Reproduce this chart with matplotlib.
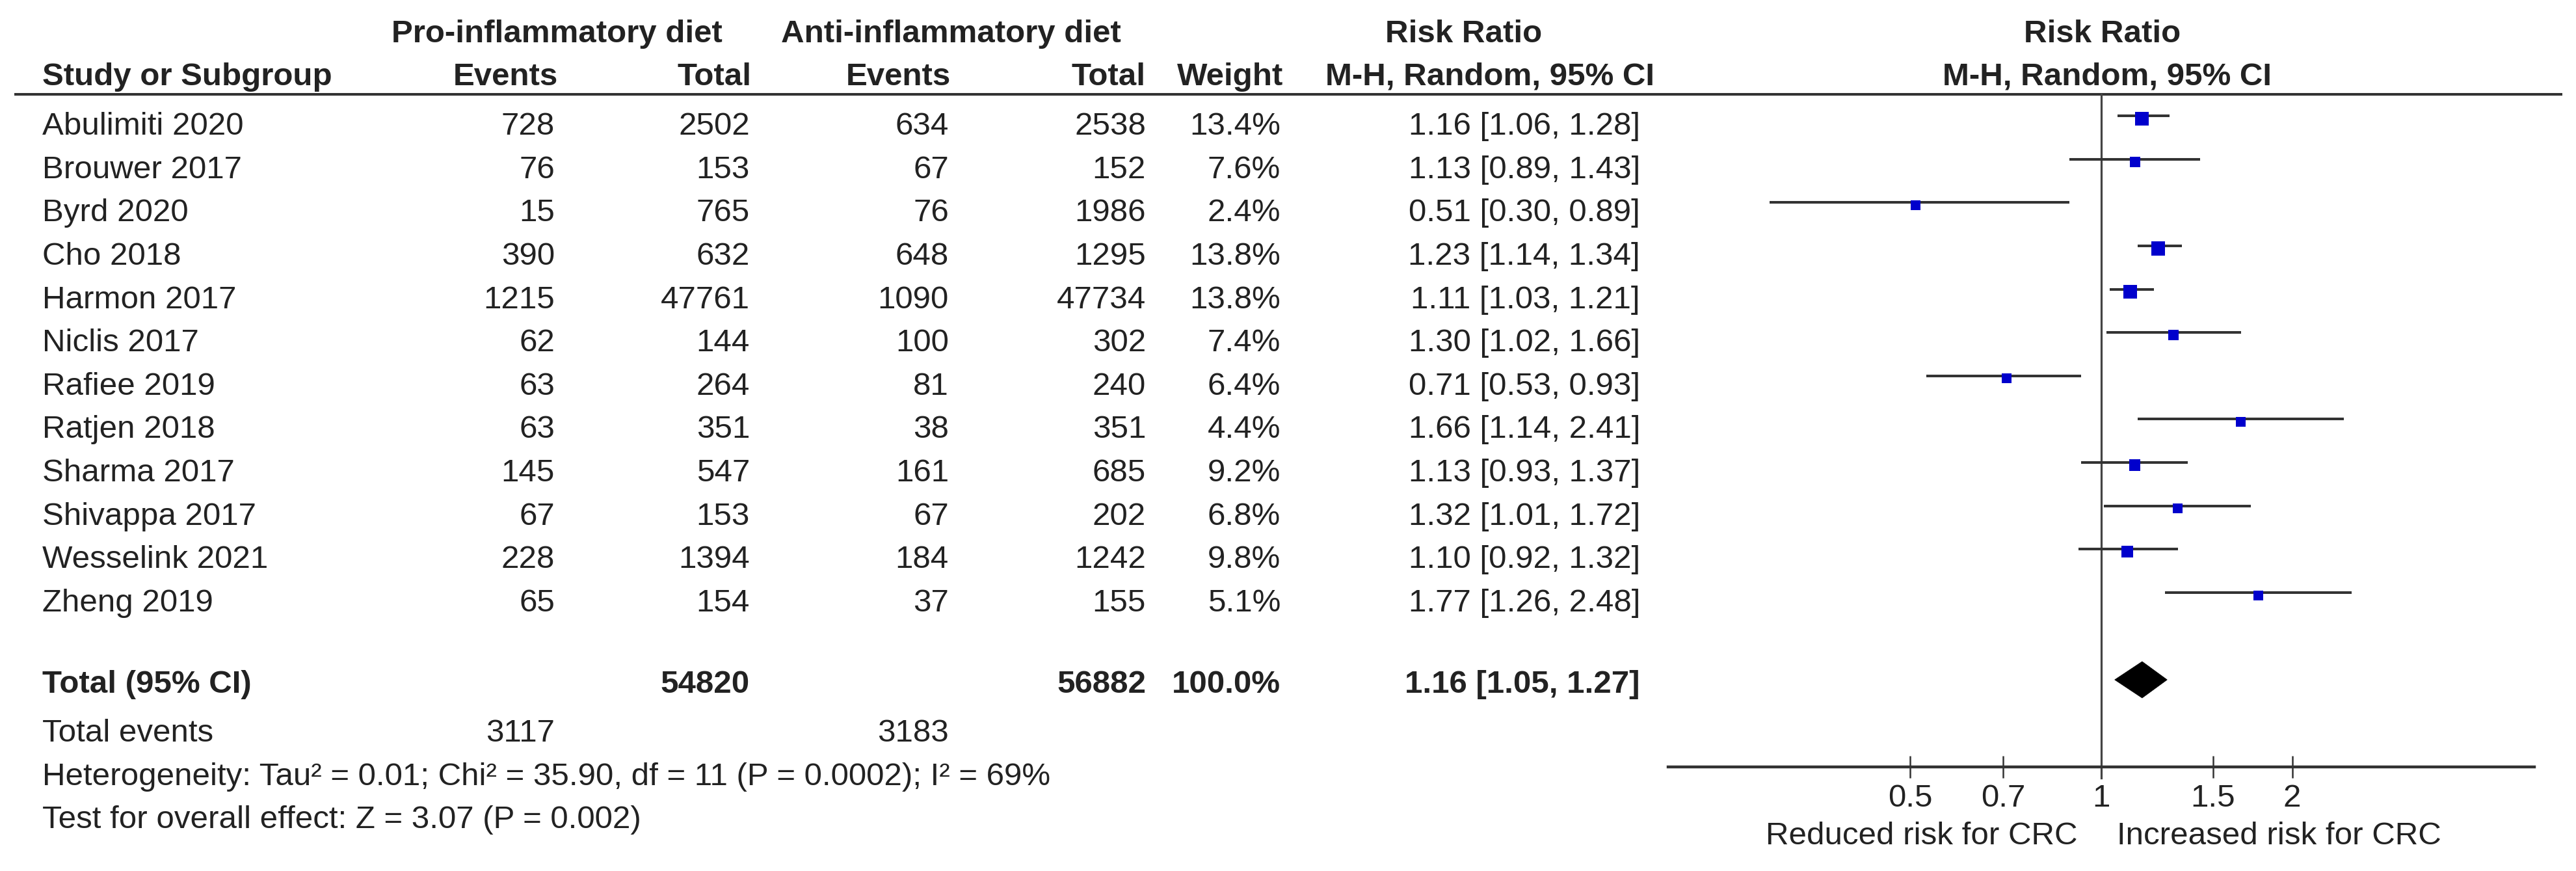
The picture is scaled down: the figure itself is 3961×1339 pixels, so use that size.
import matplotlib
matplotlib.use('Agg')
import matplotlib.pyplot as plt
from matplotlib.patches import Polygon

plt.rcParams['font.family'] = ['Liberation Sans', 'DejaVu Sans']

# Study data
studies = ['Abulimiti 2020', 'Brouwer 2017', 'Byrd 2020', 'Cho 2018', 'Harmon 2017',
           'Niclis 2017', 'Rafiee 2019', 'Ratjen 2018', 'Sharma 2017', 'Shivappa 2017',
           'Wesselink 2021', 'Zheng 2019']
events_pro = [728, 76, 15, 390, 1215, 62, 63, 63, 145, 67, 228, 65]
total_pro = [2502, 153, 765, 632, 47761, 144, 264, 351, 547, 153, 1394, 154]
events_anti = [634, 67, 76, 648, 1090, 100, 81, 38, 161, 67, 184, 37]
total_anti = [2538, 152, 1986, 1295, 47734, 302, 240, 351, 685, 202, 1242, 155]
weight = [13.4, 7.6, 2.4, 13.8, 13.8, 7.4, 6.4, 4.4, 9.2, 6.8, 9.8, 5.1]
rr = [1.16, 1.13, 0.51, 1.23, 1.11, 1.30, 0.71, 1.66, 1.13, 1.32, 1.10, 1.77]
rr_lo = [1.06, 0.89, 0.30, 1.14, 1.03, 1.02, 0.53, 1.14, 0.93, 1.01, 0.92, 1.26]
rr_hi = [1.28, 1.43, 0.89, 1.34, 1.21, 1.66, 0.93, 2.41, 1.37, 1.72, 1.32, 2.48]

# Pooled result
total_n_pro = 54820
total_n_anti = 56882
total_weight = '100.0%'
total_ev_pro = 3117
total_ev_anti = 3183
pooled = (1.16, 1.05, 1.27)
heterogeneity = 'Heterogeneity: Tau² = 0.01; Chi² = 35.90, df = 11 (P = 0.0002); I² = 69%'
overall = 'Test for overall effect: Z = 3.07 (P = 0.002)'

ticks = [0.5, 0.7, 1, 1.5, 2]
tick_labels = ['0.5', '0.7', '1', '1.5', '2']

W, H = 3962, 1339
DPI = 100
FS = 35.5
TXT = '#222222'
LINE = '#333333'
BLUE = '#0000CC'

fig = plt.figure(figsize=(W / DPI, H / DPI), dpi=DPI)

# full-figure axes in pixel coordinates for the table text
tab = fig.add_axes([0, 0, 1, 1])
tab.set_xlim(0, W)
tab.set_ylim(H, 0)
tab.axis('off')


def txt(x, y, s, ha='left', bold=False):
    tab.text(x, y, s, ha=ha, va='baseline', fontsize=FS, color=TXT,
             fontweight='bold' if bold else 'normal')


# headers
txt(602, 65, 'Pro-inflammatory diet', bold=True)
txt(1201, 65, 'Anti-inflammatory diet', bold=True)
txt(2251, 65, 'Risk Ratio', ha='center', bold=True)
txt(3233, 65, 'Risk Ratio', ha='center', bold=True)
txt(65, 131, 'Study or Subgroup', bold=True)
txt(858, 131, 'Events', ha='right', bold=True)
txt(1156, 131, 'Total', ha='right', bold=True)
txt(1462, 131, 'Events', ha='right', bold=True)
txt(1762, 131, 'Total', ha='right', bold=True)
txt(1973, 131, 'Weight', ha='right', bold=True)
txt(2291, 131, 'M-H, Random, 95% CI', ha='center', bold=True)
txt(3240, 131, 'M-H, Random, 95% CI', ha='center', bold=True)
tab.plot([22, 3940], [145, 145], color=LINE, lw=2.9, solid_capstyle='butt')

# rows
y0, dy = 207, 66.64
cols = [853, 1153, 1459, 1762, 1969, 2522]
base = [y0 + dy * i for i in range(len(studies))]
for i, name in enumerate(studies):
    y = base[i]
    txt(65, y, name)
    txt(cols[0], y, str(events_pro[i]), ha='right')
    txt(cols[1], y, str(total_pro[i]), ha='right')
    txt(cols[2], y, str(events_anti[i]), ha='right')
    txt(cols[3], y, str(total_anti[i]), ha='right')
    txt(cols[4], y, f'{weight[i]:.1f}%', ha='right')
    txt(cols[5], y, f'{rr[i]:.2f} [{rr_lo[i]:.2f}, {rr_hi[i]:.2f}]', ha='right')

y_tot = 1065
txt(65, y_tot, 'Total (95% CI)', bold=True)
txt(cols[1], y_tot, str(total_n_pro), ha='right', bold=True)
txt(cols[3], y_tot, str(total_n_anti), ha='right', bold=True)
txt(cols[4], y_tot, total_weight, ha='right', bold=True)
txt(cols[5], y_tot, f'{pooled[0]:.2f} [{pooled[1]:.2f}, {pooled[2]:.2f}]', ha='right', bold=True)
txt(65, y0 + dy * 14, 'Total events')
txt(cols[0], y0 + dy * 14, str(total_ev_pro), ha='right')
txt(cols[2], y0 + dy * 14, str(total_ev_anti), ha='right')
txt(65, y0 + dy * 15, heterogeneity)
txt(65, y0 + dy * 16, overall)

# forest panel
x_left, x_right = 2565, 3897
y_top, y_axis = 145, 1179
ax = fig.add_axes([x_left / W, 1 - y_axis / H, (x_right - x_left) / W, (y_axis - y_top) / H])
ax.set_xscale('log')
ax.set_xlim(1 / 4.815, 4.815)
ax.set_ylim(y_axis, y_top)
ax.patch.set_alpha(0)
for s in ['top', 'left', 'right']:
    ax.spines[s].set_visible(False)
ax.spines['bottom'].set_color(LINE)
ax.spines['bottom'].set_linewidth(3.2)
ax.set_yticks([])
ax.set_xticks(ticks)
ax.set_xticklabels(tick_labels)
ax.xaxis.set_minor_locator(matplotlib.ticker.NullLocator())
ax.tick_params(axis='x', direction='inout', length=25, width=1.8, color=LINE,
               labelsize=FS, labelcolor=TXT, pad=6)

ax.plot([1, 1], [y_top, y_axis + 17], color='#444444', lw=2.3, clip_on=False)

line_y = [b - 29 for b in base]
sq_y = [b - 25 for b in base]
# square side in px: area follows weight, with a floor for small studies
side_px = [max(15.0, 21.0 * (w / 13.4) ** 0.5) for w in weight]
for i in range(len(studies)):
    ax.plot([rr_lo[i], rr_hi[i]], [line_y[i], line_y[i]], color=LINE, lw=2.9,
            solid_capstyle='butt', zorder=2)
ax.scatter(rr, sq_y, marker='s', s=[(p * 72 / DPI) ** 2 for p in side_px], color=BLUE,
           linewidths=0, zorder=3)

yd = 1045
diamond = Polygon([(pooled[1], yd), (pooled[0], yd - 28), (pooled[2], yd), (pooled[0], yd + 28)],
                  closed=True, facecolor='black', edgecolor='black', lw=0.5)
ax.add_patch(diamond)

txt(3195, 1298, 'Reduced risk for CRC', ha='right')
txt(3255, 1298, 'Increased risk for CRC')

fig.savefig('out.png', dpi=DPI, facecolor='white')
